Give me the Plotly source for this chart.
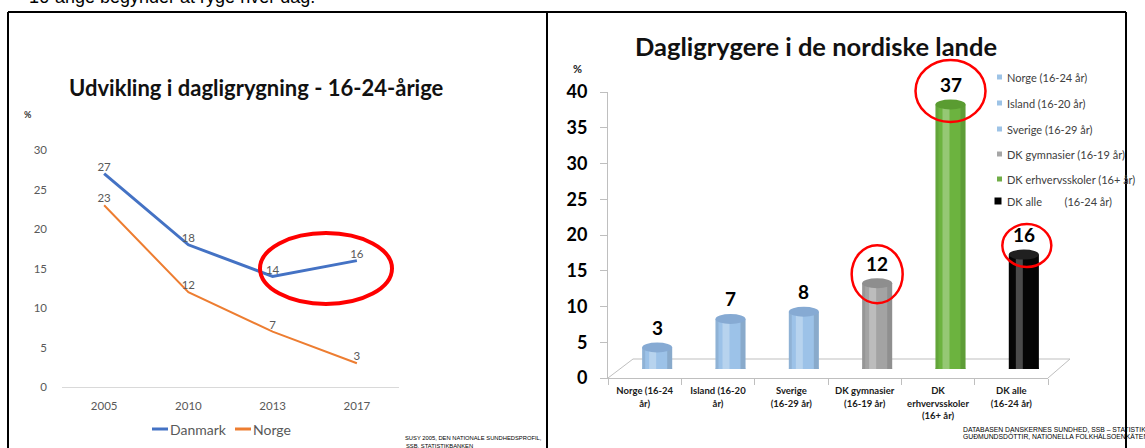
import plotly.graph_objects as go

W, H = 1145, 448


def px(x):
    return x / W


def py(y):
    return 1 - y / H


# ---------------- data ----------------
years = ["2005", "2010", "2013", "2017"]
danmark = [27, 18, 14, 16]
norge = [23, 12, 7, 3]
left_yticks = [0, 5, 10, 15, 20, 25, 30]

groups = [
    "Norge (16-24 år)",
    "Island (16-20 år)",
    "Sverige (16-29 år)",
    "DK gymnasier (16-19 år)",
    "DK erhvervsskoler (16+ år)",
    "DK alle (16-24 år)",
]
group_ticktext = [
    "<b>Norge (16-24<br>år)</b>",
    "<b>Island (16-20<br>år)</b>",
    "<b>Sverige<br>(16-29 år)</b>",
    "<b>DK gymnasier<br>(16-19 år)</b>",
    "<b>DK<br>erhvervsskoler<br>(16+ år)</b>",
    "<b>DK alle<br>(16-24 år)</b>",
]
legend_labels = [
    "Norge (16-24 år)",
    "Island (16-20 år)",
    "Sverige (16-29 år)",
    "DK gymnasier (16-19 år)",
    "DK erhvervsskoler (16+ år)",
    "DK alle&nbsp;&nbsp;&nbsp;&nbsp;&nbsp;&nbsp;&nbsp;&nbsp;(16-24 år)",
]
group_values = [3, 7, 8, 12, 37, 16]
right_yticks = [0, 5, 10, 15, 20, 25, 30, 35, 40]
highlighted = [3, 4, 5]  # indices circled in red

# ---------------- styles ----------------
blue, orange = "#4472C4", "#ED7D31"
body_colors = ["#9CC2E8", "#9CC2E8", "#9CC2E8", "#A3A3A3", "#6CB33F", "#050505"]
cap_colors = ["#86AAD3", "#86AAD3", "#86AAD3", "#8E8E8E", "#5A9C31", "#202020"]
legend_sq = ["#9DC3E6", "#9DC3E6", "#9DC3E6", "#A6A6A6", "#70AD47", "#000000"]
gray_txt = "#595959"

fig = go.Figure()

# ---- left: line chart ----
fig.add_trace(go.Scatter(
    x=years, y=danmark, name="Danmark", mode="lines+text",
    text=[str(v) for v in danmark], textposition="top center",
    textfont=dict(family="Lato", size=11.5, color=gray_txt),
    line=dict(color=blue, width=3), xaxis="x", yaxis="y",
    cliponaxis=False, hoverinfo="skip"))
fig.add_trace(go.Scatter(
    x=years, y=norge, name="Norge", mode="lines+text",
    text=[str(v) for v in norge], textposition="top center",
    textfont=dict(family="Lato", size=11.5, color=gray_txt),
    line=dict(color=orange, width=2), xaxis="x", yaxis="y",
    cliponaxis=False, hoverinfo="skip"))

# ---- right: axis carrier + cylinders ----
fig.add_trace(go.Scatter(
    x=group_ticktext, y=[None] * len(groups), mode="markers",
    xaxis="x2", yaxis="y2", hoverinfo="skip", showlegend=False))
fig.add_trace(go.Bar(
    x=groups, y=group_values, marker=dict(color=body_colors, line=dict(width=0)),
    width=0.41, xaxis="x3", yaxis="y3", hoverinfo="skip"))

shapes = []
annotations = []

# cylinder decorations anchored on the bar values
for i, v in enumerate(group_values):
    common = dict(xref="x3", yref="y3", xsizemode="pixel", xanchor=i, layer="above")
    shapes.append(dict(type="circle", ysizemode="pixel", yanchor=0, x0=-15, x1=15, y0=-5, y1=5,
                       fillcolor=body_colors[i], line=dict(width=0), **common))
    shapes.append(dict(type="rect", x0=-8, x1=-1, y0=0, y1=v,
                       fillcolor="rgba(255,255,255,0.28)", line=dict(width=0), **common))
    shapes.append(dict(type="rect", x0=10, x1=15, y0=0, y1=v,
                       fillcolor="rgba(0,0,0,0.12)", line=dict(width=0), **common))
    shapes.append(dict(type="rect", x0=-15, x1=-12, y0=0, y1=v,
                       fillcolor="rgba(0,0,0,0.08)", line=dict(width=0), **common))
    shapes.append(dict(type="circle", ysizemode="pixel", yanchor=v, x0=-15, x1=15, y0=-5, y1=5,
                       fillcolor=cap_colors[i], line=dict(width=0), **common))
    annotations.append(dict(xref="x3", yref="y3", x=i, y=v, yshift=20, text=str(v),
                            showarrow=False, font=dict(family="Lato", size=19, color="black", weight="bold")))

# red circles around the highlighted labels (pixel offsets around value)
circle_geo = {3: (-25.5, 25.5, -20, 38), 4: (-35, 35, -17.5, 44.5), 5: (-21.5, 27.5, -12.5, 30.5)}
for i in highlighted:
    x0, x1, y0, y1 = circle_geo[i]
    shapes.append(dict(type="circle", xref="x3", yref="y3", xsizemode="pixel", ysizemode="pixel",
                       xanchor=i, yanchor=group_values[i], x0=x0, x1=x1, y0=y0, y1=y1,
                       line=dict(color="#FF0000", width=2.5), layer="above"))

# 3D floor of the bar chart
shapes.append(dict(type="path", xref="paper", yref="paper",
                   path=f"M {px(608)},{py(378)} L {px(633)},{py(359)} L {px(1070)},{py(359)} L {px(1048)},{py(378)}",
                   line=dict(color="#BFBFBF", width=1), layer="below"))

# red ellipse on line chart
shapes.append(dict(type="circle", xref="paper", yref="paper",
                   x0=px(260), x1=px(392), y0=py(304), y1=py(233),
                   line=dict(color="#FF0000", width=4), layer="above"))

# left legend (line samples)
shapes.append(dict(type="line", xref="paper", yref="paper", x0=px(152), x1=px(168), y0=py(429), y1=py(429),
                   line=dict(color=blue, width=3)))
shapes.append(dict(type="line", xref="paper", yref="paper", x0=px(235), x1=px(251), y0=py(429), y1=py(429),
                   line=dict(color=orange, width=3)))
annotations.append(dict(xref="paper", yref="paper", x=px(168), y=py(429), xanchor="left", yanchor="middle",
                        text="Danmark", showarrow=False, font=dict(family="Lato", size=14, color=gray_txt)))
annotations.append(dict(xref="paper", yref="paper", x=px(251), y=py(429), xanchor="left", yanchor="middle",
                        text="Norge", showarrow=False, font=dict(family="Lato", size=14, color=gray_txt)))

# right legend (squares)
leg_y = [77, 103, 129, 154, 179, 201]
for k, (lab, col) in enumerate(zip(legend_labels, legend_sq)):
    s = 3.5 if k == len(legend_labels) - 1 else 2.5
    cx = 998 if k == len(legend_labels) - 1 else 999.5
    shapes.append(dict(type="rect", xref="paper", yref="paper", x0=px(cx - s), x1=px(cx + s),
                       y0=py(leg_y[k] + s), y1=py(leg_y[k] - s), fillcolor=col, line=dict(width=0)))
    annotations.append(dict(xref="paper", yref="paper", x=px(1005), y=py(leg_y[k]), xanchor="left",
                            yanchor="middle", text=lab, showarrow=False,
                            font=dict(family="Lato", size=11, color="#404040")))

# frames
frame = dict(color="black", width=2)
shapes += [
    dict(type="line", xref="paper", yref="paper", x0=px(8), x1=px(1126), y0=py(12), y1=py(12), line=frame),
    dict(type="line", xref="paper", yref="paper", x0=px(8), x1=px(8), y0=py(12), y1=py(460), line=frame),
    dict(type="line", xref="paper", yref="paper", x0=px(547), x1=px(547), y0=py(12), y1=py(460), line=frame),
    dict(type="line", xref="paper", yref="paper", x0=px(1126), x1=px(1126), y0=py(12), y1=py(460), line=frame),
]

# texts
src_font = dict(family="Liberation Sans", color="black")
annotations += [
    dict(xref="paper", yref="paper", x=px(27), y=py(-3), xanchor="left", yanchor="middle",
         text="16-årige begynder at ryge hver dag.", showarrow=False,
         font=dict(family="Liberation Sans", size=18, color="black")),
    dict(xref="paper", yref="paper", x=px(256), y=py(88), xanchor="center", yanchor="middle",
         text="<b>Udvikling i dagligrygning - 16-24-årige</b>", showarrow=False,
         font=dict(family="Lato", size=22, color="#111111")),
    dict(xref="paper", yref="paper", x=px(28), y=py(114), xanchor="center", yanchor="middle",
         text="<b>%</b>", showarrow=False, font=dict(family="Lato", size=9, color="#333333")),
    dict(xref="paper", yref="paper", x=px(816), y=py(46), xanchor="center", yanchor="middle",
         text="<b>Dagligrygere i de nordiske lande</b>", showarrow=False,
         font=dict(family="Lato", size=25.5, color="#111111")),
    dict(xref="paper", yref="paper", x=px(577), y=py(68), xanchor="center", yanchor="middle",
         text="<b>%</b>", showarrow=False, font=dict(family="Lato", size=11, color="#222222")),
    dict(xref="paper", yref="paper", x=px(403), y=py(438), xanchor="left", yanchor="middle",
         text="SUSY 2005, DEN NATIONALE SUNDHEDSPROFIL,", showarrow=False, font=dict(size=5.8, **src_font)),
    dict(xref="paper", yref="paper", x=px(404), y=py(445.5), xanchor="left", yanchor="middle",
         text="SSB, STATISTIKBANKEN", showarrow=False, font=dict(size=5.8, **src_font)),
    dict(xref="paper", yref="paper", x=px(961), y=py(429), xanchor="left", yanchor="middle",
         text="DATABASEN DANSKERNES SUNDHED, SSB – STATISTIKBANKEN,", showarrow=False,
         font=dict(size=6.8, **src_font)),
    dict(xref="paper", yref="paper", x=px(961), y=py(435.5), xanchor="left", yanchor="middle",
         text="GUÐMUNDSDÓTTIR, NATIONELLA FOLKHÄLSOENKÄTEN", showarrow=False,
         font=dict(size=6.8, **src_font)),
]

y3_top = 45  # headroom so the red circle above the tallest bar is not clipped
fig.update_layout(
    width=W, height=H, autosize=False,
    margin=dict(l=0, r=0, t=0, b=0, pad=0, autoexpand=False),
    paper_bgcolor="white", plot_bgcolor="rgba(0,0,0,0)", showlegend=False,
    xaxis=dict(domain=[px(62), px(399)], anchor="y", type="category", range=[-0.5, 3.5], automargin=False,
               showline=True, linecolor="#D9D9D9", linewidth=1, ticks="", showgrid=False,
               tickfont=dict(family="Lato", size=11.5, color=gray_txt), ticklabelstandoff=8),
    yaxis=dict(domain=[py(387), py(150)], anchor="x", range=[0, 30], tickvals=left_yticks, automargin=False,
               showgrid=False, zeroline=False, showline=False,
               tickfont=dict(family="Lato", size=11.5, color=gray_txt), ticklabelstandoff=14),
    xaxis2=dict(domain=[px(608), px(1048)], anchor="y2", type="category", automargin=False,
                categoryorder="array", categoryarray=group_ticktext, range=[-0.5, 5.5],
                showline=True, linecolor="#BFBFBF", ticks="outside", tickson="boundaries",
                ticklen=6, tickcolor="#BFBFBF", showgrid=False, ticklabelstandoff=4,
                tickfont=dict(family="Lato", size=9.5, color="#1a1a1a")),
    yaxis2=dict(domain=[py(378), py(92)], anchor="x2", range=[0, 40], tickvals=right_yticks, automargin=False,
                showline=True, linecolor="#BFBFBF", ticks="outside", ticklen=7, tickcolor="#BFBFBF",
                showgrid=False, zeroline=False,
                tickfont=dict(family="Lato", size=18, color="black", weight="bold"), ticklabelstandoff=9),
    xaxis3=dict(domain=[px(620.5), px(1060.5)], anchor="y3", type="category", automargin=False,
                categoryorder="array", categoryarray=groups, range=[-0.5, 5.5], visible=False),
    yaxis3=dict(domain=[py(369), py(369 - 7.15 * y3_top)], anchor="x3", range=[0, y3_top],
                visible=False, automargin=False),
    shapes=shapes,
    annotations=annotations,
)

fig.write_html(
    "out.html",
    config={"displayModeBar": False, "responsive": False},
    post_script="document.documentElement.style.margin='0';document.body.style.margin='0';"
                "document.body.style.padding='0';document.body.style.overflow='hidden';",
)
